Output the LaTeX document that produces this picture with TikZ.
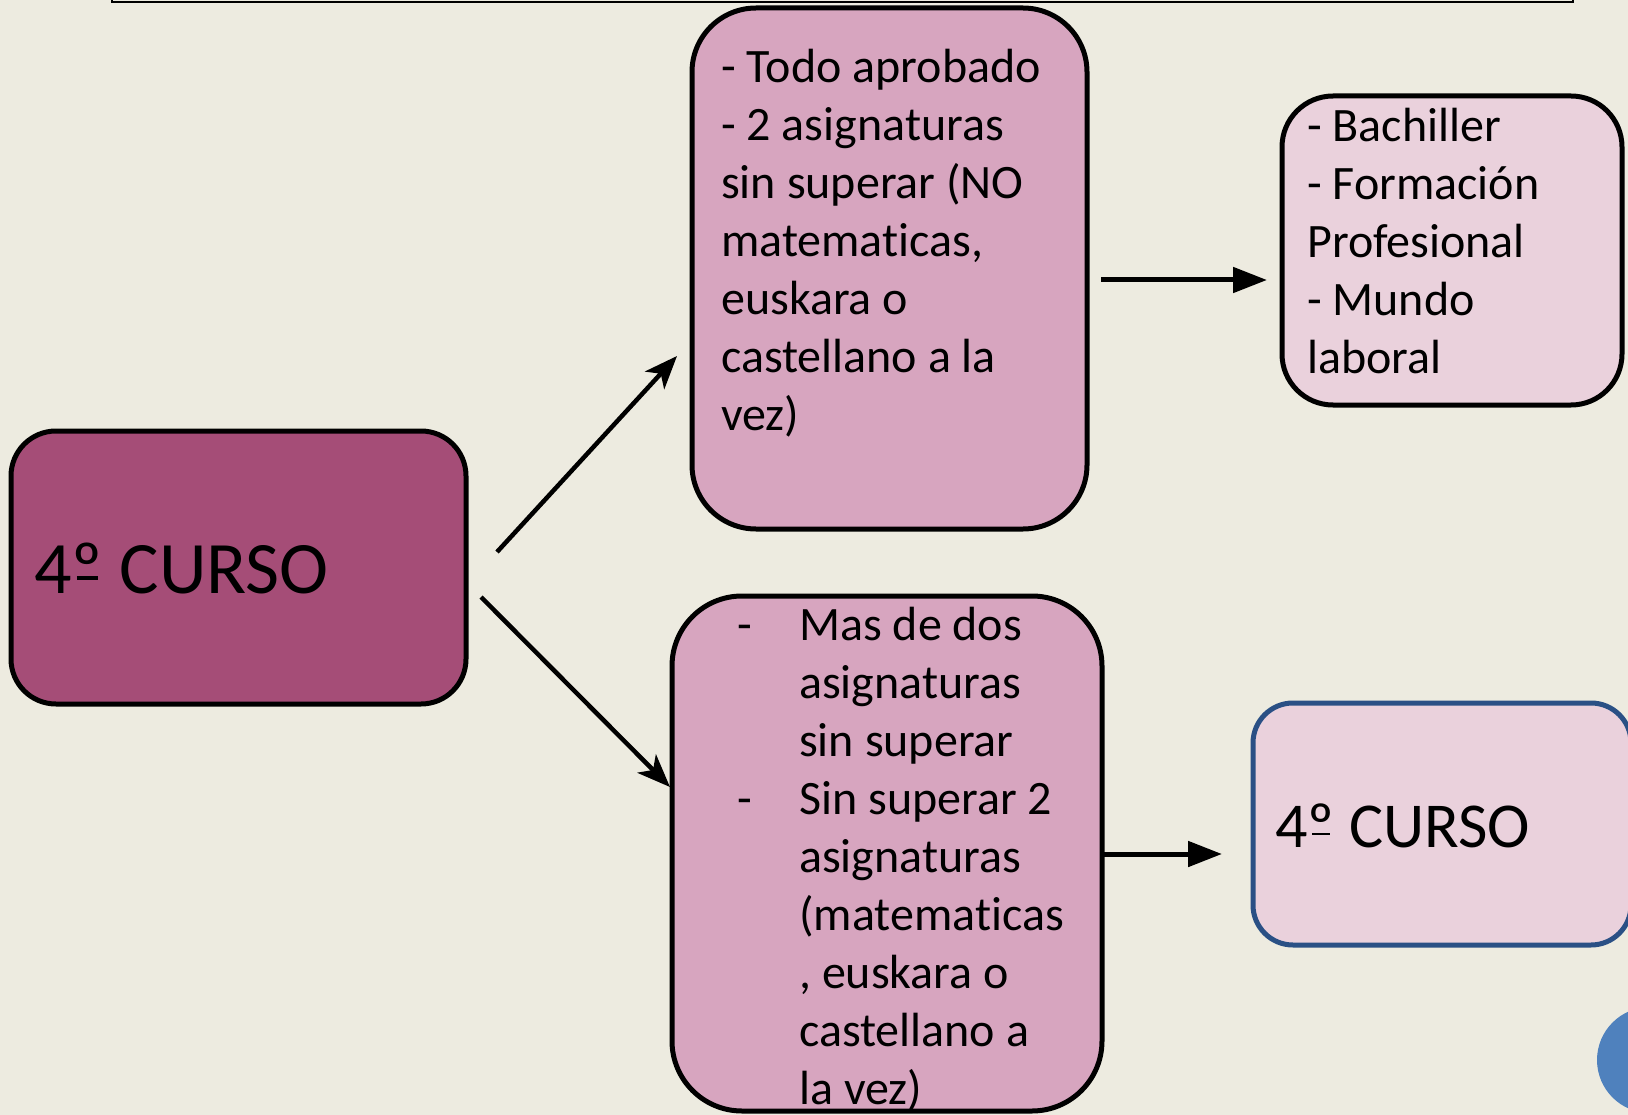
\documentclass[tikz,border=0pt]{standalone}
\usepackage{fontspec}
\setmainfont{Carlito}[Ligatures=NoCommon]
\usetikzlibrary{arrows.meta}
\definecolor{bgc}{RGB}{237,235,224}
\definecolor{darkplum}{RGB}{165,77,119}
\definecolor{midpink}{RGB}{215,165,191}
\definecolor{lightpink}{RGB}{234,209,220}
\definecolor{borderblue}{RGB}{42,80,133}
\definecolor{dotblue}{RGB}{79,129,189}
\newcommand{\normsp}{\spaceskip=0pt\xspaceskip=0pt\relax}
\newcommand{\ordmbar}{\setbox0\hbox{º}\rlap{\hbox to \wd0{\hss\rule[0.18em]{0.28em}{0.045em}\hss}}\box0}
\begin{document}
\begin{tikzpicture}[x=1pt,y=-1pt,
  box/.style={draw=black, line width=5pt, rounded corners=#1, inner sep=0pt, outer sep=0pt},
  txt/.style={font=\fontsize{48pt}{58pt}\selectfont, text width=390pt, align=left, inner sep=0pt, anchor=base west},
  diagarrow/.style={line width=4.5pt, -{Stealth[length=33pt, width=26pt, inset=9pt]}},
  flatarrow/.style={line width=5pt, -{Triangle[length=34pt, width=25pt]}}]
\useasboundingbox (0,0) rectangle (1628,1115);
\fill[bgc] (0,0) rectangle (1628,1115);
% top frame (cut off)
\draw[line width=1.5pt] (112,-10) rectangle (1573,2);
% boxes
\node[box=45pt, fill=darkplum, minimum width=455pt, minimum height=273pt] (L) at (238.5,567.5) {};
\node[box=64pt, fill=midpink, minimum width=395pt, minimum height=521pt] (TM) at (889.5,268.5) {};
\node[box=51pt, fill=lightpink, minimum width=340pt, minimum height=309pt] (TR) at (1452,250.5) {};
\node[box=70pt, fill=midpink, minimum width=430pt, minimum height=515pt] (BM) at (887,853.5) {};
\node[box=40pt, draw=borderblue, line width=5pt, fill=lightpink, minimum width=378pt, minimum height=242pt] (BR) at (1442,824) {};
\node[circle, fill=dotblue, minimum size=106pt, inner sep=0pt] (dot) at (1650,1060) {};
% texts
\node[anchor=base west, inner sep=0pt, font=\fontsize{74pt}{88pt}\selectfont] (Ltext) at (34,593) {4\ordmbar{} CURSO};
\node[anchor=base west, inner sep=0pt, font=\fontsize{64pt}{76pt}\selectfont] (BRtext) at (1275,847) {4\ordmbar{} CURSO};
\node[txt] (TMtext) at (721,83) {\normsp - Todo aprobado\\- 2 asignaturas\\sin superar (NO\\matematicas,\\euskara o\\castellano a la\\vez)};
\node[txt] (TRtext) at (1307,142) {\normsp - Bachiller\\- Formación\\Profesional\\- Mundo\\laboral};
\node[txt] (BMtext) at (737,640) {\normsp\makebox[62pt][l]{-}Mas de dos\\\hspace*{62pt}asignaturas\\\hspace*{62pt}sin superar\\\makebox[62pt][l]{-}Sin superar 2\\\hspace*{62pt}asignaturas\\\hspace*{62pt}(matematicas\\\hspace*{62pt}, euskara o\\\hspace*{62pt}castellano a\\\hspace*{62pt}la vez)};
% arrows
\coordinate (a1s) at (497,552);
\coordinate (a1e) at (677,356);
\coordinate (a2s) at (481,597);
\coordinate (a2e) at (670,787);
\coordinate (a3s) at (1101,280);
\coordinate (a3e) at (1267,280);
\coordinate (a4s) at (1103,854);
\coordinate (a4e) at (1222,854);
\draw[diagarrow] (a1s) -- (a1e);
\draw[diagarrow] (a2s) -- (a2e);
\draw[flatarrow] (a3s) -- (a3e);
\draw[flatarrow] (a4s) -- (a4e);
\end{tikzpicture}
\end{document}
